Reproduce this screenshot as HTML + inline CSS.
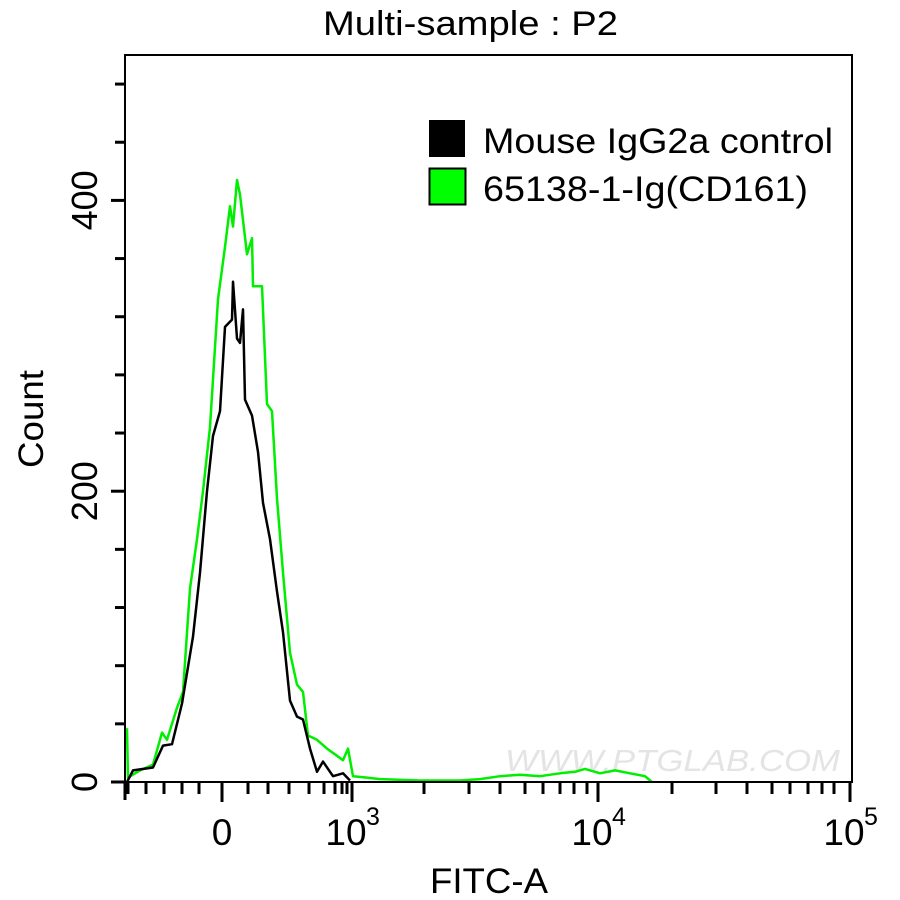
<!DOCTYPE html>
<html><head><meta charset="utf-8"><style>
html,body{margin:0;padding:0;background:#fff;}
svg{display:block;font-family:"Liberation Sans",Arial,sans-serif;}
</style></head><body>
<svg id="chart" width="900" height="900" viewBox="0 0 900 900">
<text x="323" y="35" font-size="34" textLength="295" lengthAdjust="spacingAndGlyphs">Multi-sample : P2</text>
<text x="505" y="771" font-size="31" fill="#e4e4e4" font-style="italic" textLength="335" lengthAdjust="spacingAndGlyphs">WWW.PTGLAB.COM</text>
<g id="plot"></g>
<rect x="125" y="55" width="727" height="727" fill="none" stroke="#000" stroke-width="2"/>
<g id="axes"></g>
<text transform="translate(43,468) rotate(-90)" font-size="35" textLength="98" lengthAdjust="spacingAndGlyphs">Count</text>
<text x="430" y="893" font-size="35" textLength="118" lengthAdjust="spacingAndGlyphs">FITC-A</text>
<g>
<rect x="429" y="120" width="36" height="37" fill="#000"/>
<text x="483" y="153" font-size="35" textLength="350" lengthAdjust="spacingAndGlyphs">Mouse IgG2a control</text>
<rect x="429.5" y="168.5" width="36" height="36" fill="#00ff00" stroke="#000" stroke-width="2"/>
<text x="483" y="201" font-size="35" textLength="325" lengthAdjust="spacingAndGlyphs">65138-1-Ig(CD161)</text>
</g>
</svg>
<script>
// display-channel positions (0 = left edge of axis, 727 = right edge)
const blackX=[2,8,28,38,47,57,68,75,82,88,95,100,107,108,112,115,118,120,127,133,138,145,152,158,165,172,178,185,192,198,208,218,225];
const blackY=[0,8,10,25,26,54,100,144,200,238,255,313,318,344,305,302,325,263,252,227,192,167,131,103,56,45,43,23,7,14,4,6,1];
const greenX=[2,3,15,28,37,42,52,58,65,72,78,85,93,100,105,108,112,115,122,127,128,137,142,147,152,158,165,172,178,183,192,202,212,218,223,228,242,255,295,335,355,375,395,415,435,450,460,475,490,505,520,527];
const greenY=[37,3,8,12,34,29,51,62,133,167,200,244,332,368,396,382,414,404,363,374,341,341,260,255,195,144,89,67,62,32,29,23,18,15,23,4,3,2,1,1,2,4,5,4,6,7,9,6,8,6,4,0];
const yTicks=[0,40,80,120,160,200,240,280,320,360,400,440,480];
const yLabels=[0,200,400];
const xMajor=[97,227,473,725];
const xMajorLabels=["0","10","10","10"];
const xMajorSup=["","3","4","5"];
const xMinor=[3,21,39,57,74,123,143,164,184,199,210,217,222,299,344,375,400,418,435,449,462,547,591,622,647,665,683,697,709];
const yMax=500;
const L=125,T=55,W=727,H=727;
const xs=v=>L+v*(W/727);
const ys=v=>T+H-v*(H/yMax);
const NS="http://www.w3.org/2000/svg";
const plot=document.getElementById('plot');
const axes=document.getElementById('axes');
function mk(tag,attrs,parent){const e=document.createElementNS(NS,tag);for(const k in attrs)e.setAttribute(k,attrs[k]);parent.appendChild(e);return e;}
function line(X,Y,color,name){
  let d='';for(let i=0;i<X.length;i++)d+=(i?'L':'M')+xs(X[i]).toFixed(1)+' '+ys(Y[i]).toFixed(1);
  const p=mk('path',{d:d,fill:'none',stroke:color,'stroke-width':2.5,'stroke-linejoin':'round'},plot);
  
  
}
line(greenX,greenY,'#00ee00','series-cd161');
line(blackX,blackY,'#000','series-control');
yTicks.forEach(v=>{
  const major=yLabels.includes(v);
  const t=mk('line',{x1:major?111:115,x2:125,y1:ys(v),y2:ys(v),stroke:'#000','stroke-width':3},axes);
  
  
});
yLabels.forEach(v=>{
  const t=mk('text',{transform:`translate(97,${ys(v)}) rotate(-90)`,'font-size':36,'text-anchor':'middle'},axes);
  t.textContent=v;
  
  
});
xMinor.forEach(v=>{
  const t=mk('line',{x1:xs(v),x2:xs(v),y1:782,y2:794,stroke:'#000','stroke-width':3},axes);
  
  
});
xMajor.forEach((v,i)=>{
  const t=mk('line',{x1:xs(v),x2:xs(v),y1:782,y2:802,stroke:'#000','stroke-width':3},axes);
  
  
  const lab=mk('text',{x:xs(v)+(xMajorSup[i]?-6:0),y:845,'font-size':37,'text-anchor':'middle'},axes);
  lab.textContent=xMajorLabels[i];
  
  
  if(xMajorSup[i]){
    const s=mk('text',{x:xs(v)+14,y:825,'font-size':25},axes);
    s.textContent=xMajorSup[i];
    
    
  }
});
mk('line',{x1:125,x2:125,y1:782,y2:800,stroke:'#000','stroke-width':3},axes);
</script>
</body></html>
